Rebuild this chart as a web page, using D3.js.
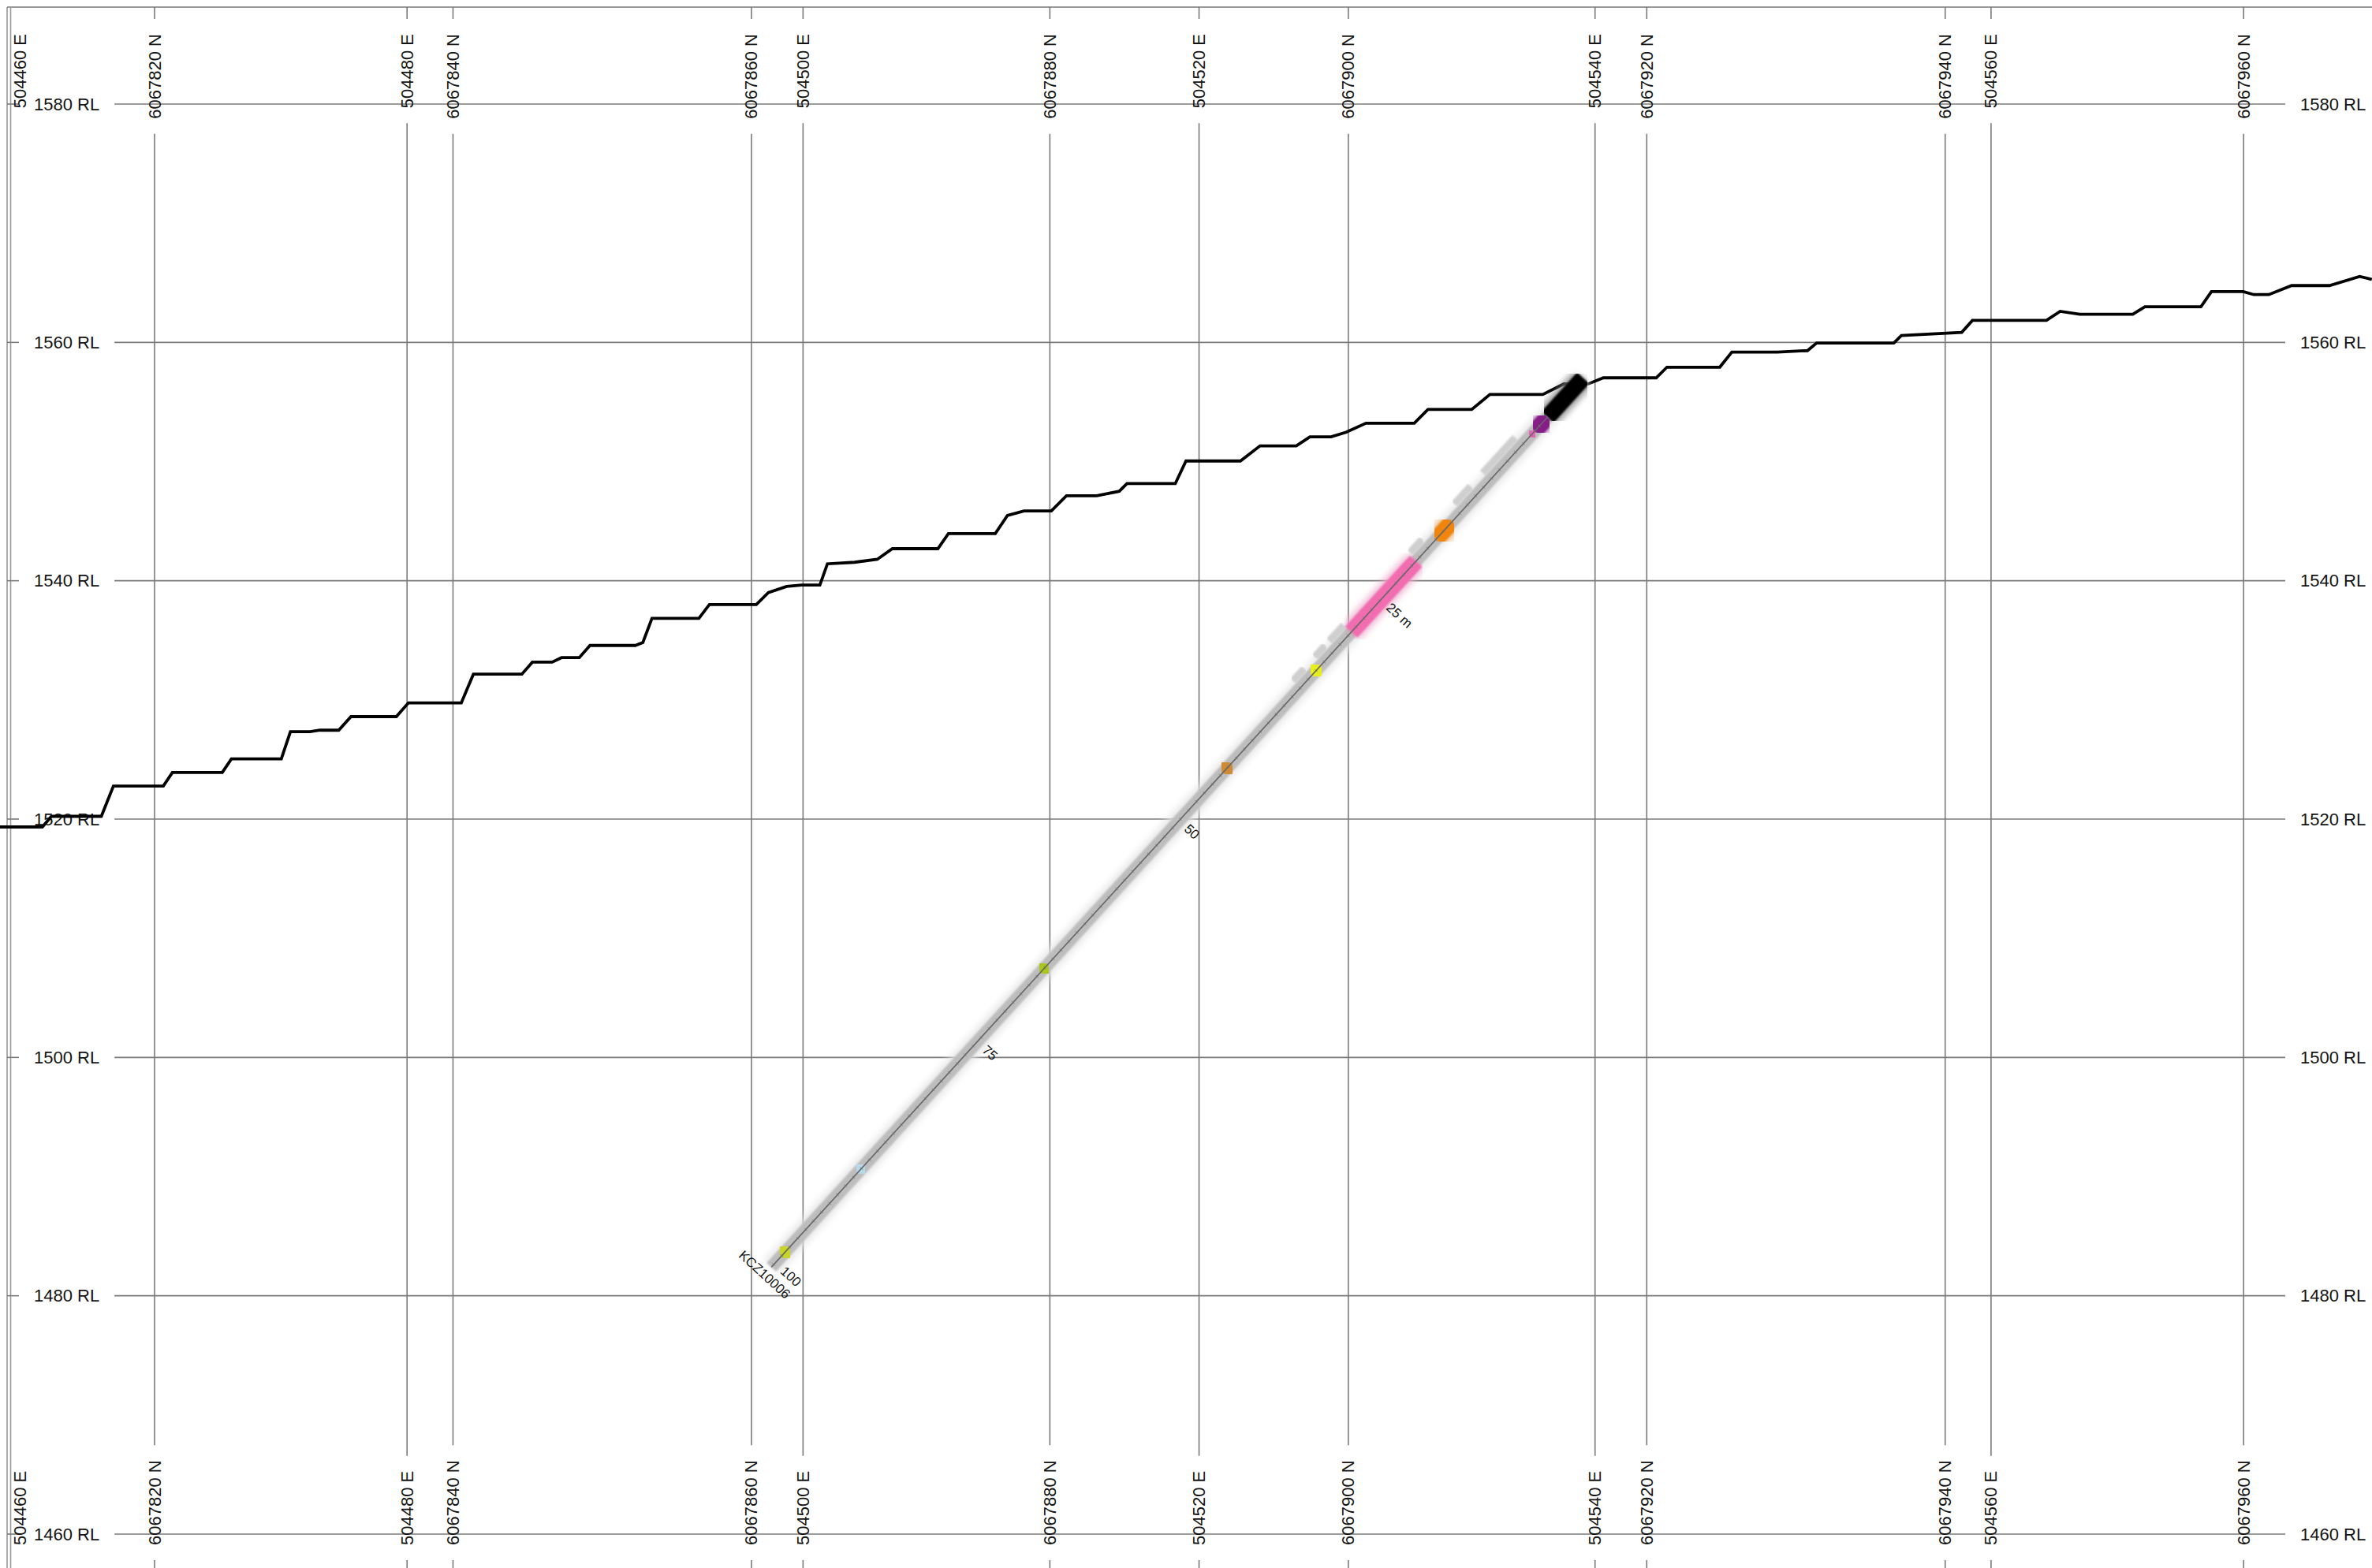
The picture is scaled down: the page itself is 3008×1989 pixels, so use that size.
<!DOCTYPE html>
<html><head><meta charset="utf-8">
<script src="https://cdn.jsdelivr.net/npm/d3@7"></script>
<style>
html,body{margin:0;padding:0;background:#fff}
svg{display:block}
text{font-family:"Liberation Sans",Arial,Helvetica,sans-serif;fill:#141414}
</style>
</head><body>
<svg id="c" width="3008" height="1989"></svg>
<script>
// ---------- data ----------
const eastTicks = [504460, 504480, 504500, 504520, 504540, 504560];
const northTicks = [6067820, 6067840, 6067860, 6067880, 6067900, 6067920, 6067940, 6067960];
const rlTicks = [1580, 1560, 1540, 1520, 1500, 1480, 1460];

// topography profile: easting along section, RL
const terrainE = [504459.4,504461.58,504462.04,504464.56,504465.17,504467.69,504468.15,504470.67,504471.13,504473.65,
 504474.11,504475.10,504475.6,504476.55,504477.17,504479.46,504480.07,504482.74,504483.35,504485.80,
 504486.33,504487.33,504487.8,504488.70,504489.24,504491.53,504491.91,504492.37,504494.74,504495.27,
 504497.64,504498.25,504499.17,504499.93,504500.85,504501.23,504502.60,504503.75,504504.51,504506.81,
 504507.34,504509.71,504510.32,504511.16,504512.54,504513.30,504514.83,504515.97,504516.36,504518.80,
 504519.34,504522.09,504523.08,504524.91,504525.60,504526.67,504527.43,504528.43,504530.87,504531.56,
 504533.77,504534.69,504537.36,504538.43,504539.66,504540.42,504543.09,504543.63,504546.30,504546.91,
 504549.20,504550.73,504551.19,504555.09,504555.47,504558.52,504559.06,504562.80,504563.49,504564.48,
 504567.16,504567.77,504570.60,504571.13,504572.74,504573.27,504574.03,504575.18,504577.09,504578.62,504579.23];
const terrainRL = [1519.34,1519.34,1520.23,1520.23,1522.77,1522.77,1523.91,1523.91,1525.05,1525.05,
 1527.34,1527.34,1527.46,1527.46,1528.60,1528.60,1529.75,1529.75,1532.16,1532.16,
 1533.17,1533.17,1533.55,1533.55,1534.57,1534.57,1534.82,1536.85,1536.85,1538.00,
 1538.00,1539.01,1539.52,1539.64,1539.64,1541.42,1541.55,1541.80,1542.69,1542.69,
 1543.96,1543.96,1545.48,1545.86,1545.86,1547.13,1547.13,1547.51,1548.15,1548.15,
 1550.05,1550.05,1551.32,1551.32,1552.08,1552.08,1552.46,1553.22,1553.22,1554.37,
 1554.37,1555.63,1555.63,1556.52,1556.52,1557.03,1557.03,1557.92,1557.92,1559.19,
 1559.19,1559.31,1559.95,1559.95,1560.58,1560.84,1561.85,1561.85,1562.61,1562.36,
 1562.36,1562.99,1562.99,1564.26,1564.26,1564.01,1564.01,1564.77,1564.77,1565.53,1565.28];

// drill hole
const holeId = "KCZ10006";
const holeCollar = {E: 504539.4, RL: 1557.0};
const holeToe = {E: 504498.4, RL: 1482.4};
const holeLength = 100.5;
const depthMarks = [25, 50, 75, 100];
const depthMarkText = ["25 m", "50", "75", "100"];
// logged intervals: from, to, colour
const intFrom  = [0,    4.4,     6.0,     16.2,    20.7,    32.5,    43.6,    66.3,    89.0,    98.3];
const intTo    = [4.4,  6.0,     6.6,     18.2,    28.7,    33.6,    44.6,    67.2,    89.8,    99.3];
const intColor = ["#000000","#861a86","#e864b4","#f08410","#f26cb0","#e6ee1c","#d08a34","#a8c81a","#b8d8ec","#c8d428"];
// side log (grey bars beside trace)
const sideFrom = [7.5, 13.0, 19.0, 28.7, 31.0, 33.6];
const sideTo   = [11.5, 15.0, 20.5, 30.5, 32.3, 35.0];

// ---------- scales ----------
const W = 3008, H = 1989;
const svg = d3.select("#c");
const xE = d3.scaleLinear().domain([504460, 504560]).range([14, 2524.9]);
const xN = d3.scaleLinear().domain([6067820, 6067960]).range([196, 2845.2]);
const y  = d3.scaleLinear().domain([1460, 1580]).range([1946, 132]);

const gridC = "#7a7a7a", gridW = 1.6, gap = 19, fs = 22;
const topText = 43, botText = 1960, leftText = 43, rightText = 2917;

// frame
svg.append("line").attr("x1",9).attr("x2",W).attr("y1",9).attr("y2",9).attr("stroke","#999").attr("stroke-width",2);
[9, 13.5].forEach(xx => svg.append("line").attr("x1",xx).attr("x2",xx).attr("y1",9).attr("y2",H)
  .attr("stroke","#999").attr("stroke-width",1.6));

const gGrid = svg.append("g");
const gLab = svg.append("g");

// vertical grid (east & north)
const vItems = eastTicks.map(v => ({x: xE(v), t: v + " E"}))
  .concat(northTicks.map(v => ({x: xN(v), t: v + " N"})));
vItems.forEach(d => {
  const edge = d.x < 20;
  const lx = edge ? 25 : d.x;
  const t1 = gLab.append("text").attr("transform", `translate(${lx},${topText}) rotate(-90)`)
    .attr("text-anchor","end").attr("dominant-baseline","central").attr("font-size",fs).text(d.t);
  gLab.append("text").attr("transform", `translate(${lx},${botText}) rotate(-90)`)
    .attr("text-anchor","start").attr("dominant-baseline","central").attr("font-size",fs).text(d.t);
  if (edge) return;
  const len = t1.node().getComputedTextLength();
  const segs = [[9, topText - gap], [topText + len + gap, botText - len - gap], [botText + gap, H]];
  segs.forEach(s => gGrid.append("line").attr("x1",d.x).attr("x2",d.x).attr("y1",s[0]).attr("y2",s[1])
    .attr("stroke",gridC).attr("stroke-width",gridW));
});

// horizontal grid (RL)
rlTicks.forEach(v => {
  const yy = y(v);
  const t1 = gLab.append("text").attr("x",leftText).attr("y",yy).attr("dominant-baseline","central")
    .attr("font-size",fs).text(v + " RL");
  gLab.append("text").attr("x",rightText).attr("y",yy).attr("dominant-baseline","central")
    .attr("font-size",fs).text(v + " RL");
  const len = t1.node().getComputedTextLength();
  const segs = [[9, leftText - gap], [leftText + len + gap, rightText - gap], [rightText + len + gap, W]];
  segs.forEach(s => gGrid.append("line").attr("x1",s[0]).attr("x2",s[1]).attr("y1",yy).attr("y2",yy)
    .attr("stroke",gridC).attr("stroke-width",gridW));
});

// terrain
const terr = terrainE.map((e,i) => [e, terrainRL[i]]);
svg.append("path").datum(terr)
  .attr("d", d3.line().x(d => xE(d[0])).y(d => y(d[1])))
  .attr("fill","none").attr("stroke","#000").attr("stroke-width",3.8).attr("stroke-linejoin","miter");

// hole
const c0 = [xE(holeCollar.E), y(holeCollar.RL)], t0 = [xE(holeToe.E), y(holeToe.RL)];
const dScale = d3.scaleLinear().domain([0, holeLength]).range([0, 1]);
const P = d => [c0[0] + (t0[0]-c0[0])*dScale(d), c0[1] + (t0[1]-c0[1])*dScale(d)];
const L = Math.hypot(t0[0]-c0[0], t0[1]-c0[1]);
const u = [(t0[0]-c0[0])/L, (t0[1]-c0[1])/L];
const n = [-u[1], u[0]];
const nn = n[0] > 0 ? n : [-n[0], -n[1]];
const angN = Math.atan2(nn[1], nn[0]) * 180 / Math.PI;

const gH = svg.append("g");
const defs = svg.append("defs");
defs.append("filter").attr("id","soft").append("feGaussianBlur").attr("stdDeviation",1.3);
defs.append("filter").attr("id","halo").append("feGaussianBlur").attr("stdDeviation",4);

function seg(g, a, b, off, w, col) {
  const p = P(a), q = P(b);
  return g.append("line")
    .attr("x1", p[0] + nn[0]*off).attr("y1", p[1] + nn[1]*off)
    .attr("x2", q[0] + nn[0]*off).attr("y2", q[1] + nn[1]*off)
    .attr("stroke", col).attr("stroke-width", w).attr("stroke-linecap","butt");
}
// soft halo around trace
seg(gH, 0, holeLength, 0, 26, "#e4e4e4").attr("filter","url(#halo)").attr("opacity",0.8);
// side log
sideFrom.forEach((f,i) => seg(gH, f, sideTo[i], -13, 9, "#cfcfcf").attr("filter","url(#soft)"));
// main trace band
seg(gH, 0, holeLength, 0, 16, "#bdbdbd").attr("filter","url(#soft)");
// interval halos + intervals
intFrom.forEach((f,i) => seg(gH, f, intTo[i], 0, 30, intColor[i]).attr("filter","url(#halo)").attr("opacity",0.35));
intFrom.forEach((f,i) => seg(gH, f, intTo[i], 0, 21, intColor[i]).attr("filter","url(#soft)"));
// centre line
seg(gH, 4.4, holeLength, 0, 1.6, "#666");
seg(gH, 4.4, holeLength, 0, 5, "#777").attr("stroke-dasharray","1 14").attr("opacity",0.6);

// depth labels
depthMarks.forEach((d,i) => {
  const p = P(d);
  gH.append("text")
    .attr("transform", `translate(${p[0] + nn[0]*12},${p[1] + nn[1]*12}) rotate(${angN})`)
    .attr("text-anchor","start").attr("dominant-baseline","central").attr("font-size",17)
    .text(depthMarkText[i]);
});
// hole id
const pe = P(holeLength);
gH.append("text")
  .attr("transform", `translate(${pe[0] + u[0]*13},${pe[1] + u[1]*13}) rotate(${angN})`)
  .attr("text-anchor","middle").attr("dominant-baseline","central").attr("font-size",17)
  .text(holeId);
</script>
</body></html>
